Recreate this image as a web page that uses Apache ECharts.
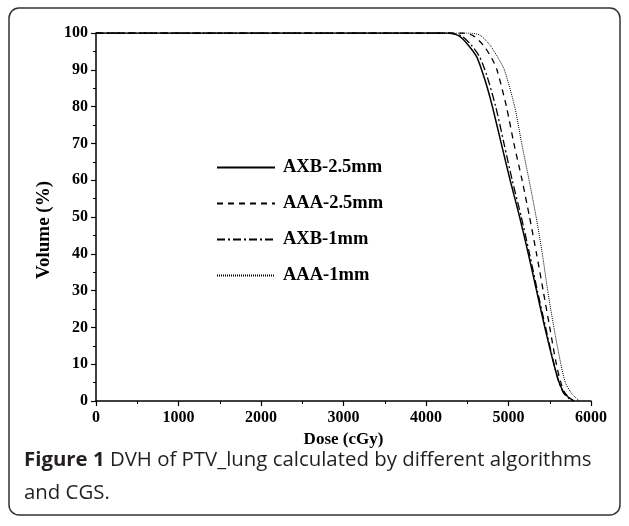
<!DOCTYPE html>
<html>
<head>
<meta charset="utf-8">
<script src="https://cdn.jsdelivr.net/npm/echarts@6/dist/echarts.min.js"></script>
<style>
html,body{margin:0;padding:0;background:#fff;}
#c{width:629px;height:526px;}
</style>
</head>
<body>
<div id="c"></div>
<script>
// Data: [dose (cGy), volume (%)]
const seriesNames = ['AXB-2.5mm', 'AAA-2.5mm', 'AXB-1mm', 'AAA-1mm'];
const axb25 = [[0,100],[4250,100],[4400,99.2],[4513,96.7],[4615,93.5],[4695,88.6],[4745,85],[4805,80],[4912,70],[5020,60],[5135,50],[5240,40],[5340,30],[5440,20],[5550,10],[5615,5],[5680,2],[5790,0]];
const aaa25 = [[0,100],[4450,100],[4570,99.3],[4695,96.7],[4800,93],[4860,90],[4975,80],[5065,70],[5165,60],[5255,50],[5340,40],[5420,30],[5500,20],[5580,10],[5635,5],[5690,2],[5790,0]];
const axb1 = [[0,100],[4280,100],[4430,99.2],[4550,96.7],[4650,93.5],[4735,88.6],[4845,80],[4945,70],[5045,60],[5155,50],[5255,40],[5350,30],[5450,20],[5552,10],[5612,5],[5672,2],[5770,0]];
const aaa1 = [[0,100],[4520,100],[4654,99.4],[4776,96.7],[4880,93],[4950,90],[5075,80],[5160,70],[5250,60],[5335,50],[5410,40],[5475,30],[5550,20],[5635,10],[5690,5],[5766,2],[5858,0]];
const xTicks = [0,1000,2000,3000,4000,5000,6000];
const yTicks = [0,10,20,30,40,50,60,70,80,90,100];

const serif = '"Liberation Serif", "DejaVu Serif", serif';
const chart = echarts.init(document.getElementById('c'), null, {renderer:'canvas'});
const dataSets = [axb25, aaa25, axb1, aaa1];
const styles = [
  {type:'solid', width:1.5},
  {type:[6,5], width:1.3},
  {type:[8,3,2,3], width:1.3},
  {type:[1,1], width:1}
];
chart.setOption({
  animation:false,
  backgroundColor:'#fff',
  grid:{left:96, right:38, top:33, bottom:125, containLabel:false},
  legend:{
    orient:'vertical', left:216, top:158, padding:0, itemGap:17, itemWidth:58, itemHeight:14,
    itemStyle:{opacity:0},
    textStyle:{fontFamily:serif, fontWeight:'bold', fontSize:18.5, lineHeight:19, color:'#000', padding:[0,0,0,3]},
    data:seriesNames
  },
  xAxis:{
    type:'value', min:0, max:6000, interval:1000,
    name:'Dose (cGy)', nameLocation:'middle', nameGap:30,
    nameTextStyle:{fontFamily:serif, fontWeight:'bold', fontSize:17, color:'#000'},
    axisLine:{show:true, onZero:false, lineStyle:{color:'#000', width:1.5}},
    axisTick:{show:true, inside:false, length:5, lineStyle:{color:'#000', width:1.2}},
    minorTick:{show:true, splitNumber:2, length:3, lineStyle:{color:'#000', width:1}},
    axisLabel:{fontFamily:serif, fontWeight:'bold', fontSize:16, color:'#000', margin:9,
      formatter:v=>xTicks.includes(v)?String(v):''},
    splitLine:{show:false}
  },
  yAxis:{
    type:'value', min:0, max:100, interval:10,
    name:'Volume (%)', nameLocation:'middle', nameGap:42,
    nameTextStyle:{fontFamily:serif, fontWeight:'bold', fontSize:19, color:'#000', padding:[0,26,0,0]},
    axisLine:{show:true, onZero:false, lineStyle:{color:'#000', width:1.5}},
    axisTick:{show:true, inside:false, length:5, lineStyle:{color:'#000', width:1.2}},
    minorTick:{show:true, splitNumber:2, length:3, lineStyle:{color:'#000', width:1}},
    axisLabel:{fontFamily:serif, fontWeight:'bold', fontSize:16, color:'#000', margin:8,
      formatter:v=>yTicks.includes(v)?String(v):''},
    splitLine:{show:false}
  },
  series:dataSets.map((d,i)=>({
    name:seriesNames[i], type:'line', data:d, showSymbol:false, symbol:'none',
    smooth:0.25, lineStyle:Object.assign({color:'#000'}, styles[i]),
    itemStyle:{color:'#000'}
  })),
  graphic:[
    {type:'rect', shape:{x:9, y:8, width:611, height:507, r:10}, style:{fill:'none', stroke:'#333', lineWidth:1.5}, silent:true, z:-1},
    {type:'text', left:24, top:444, style:{
      text:'{b|Figure 1} DVH of PTV_lung calculated by different algorithms\nand CGS.',
      font:'20.4px "Open Sans"', fill:'#231f20', lineHeight:33,
      rich:{b:{fontWeight:'bold', fontFamily:'Open Sans', fontSize:20.4, fill:'#231f20', lineHeight:33}}
    }}
  ]
});
</script>
</body>
</html>
